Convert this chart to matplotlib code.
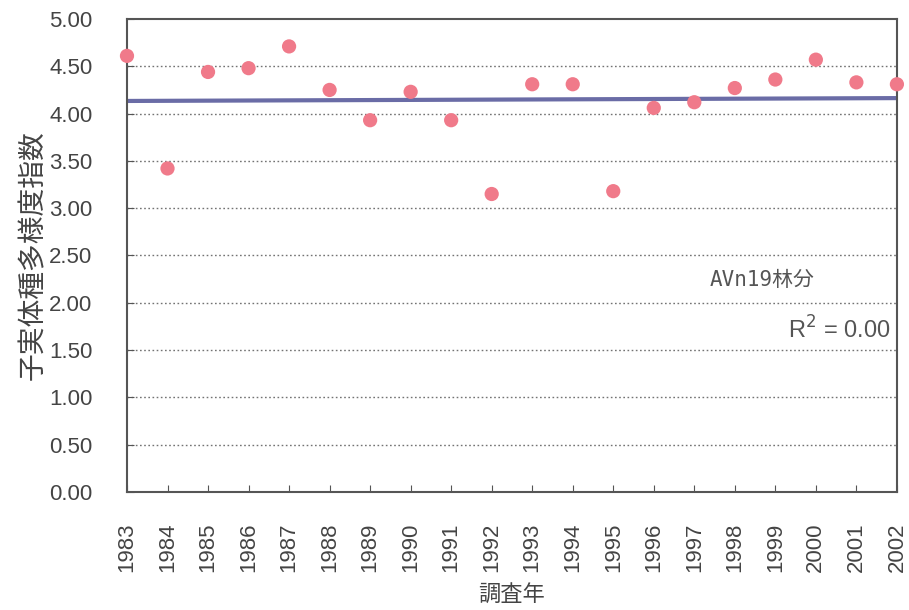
import numpy as np
import matplotlib.pyplot as plt

plt.rcParams['font.family'] = ['Liberation Sans', 'Noto Sans CJK JP']

years = np.arange(1983, 2003)
index = [4.61, 3.42, 4.44, 4.48, 4.71, 4.25, 3.93, 4.23, 3.93, 3.15,
         4.31, 4.31, 3.18, 4.06, 4.12, 4.27, 4.36, 4.57, 4.33, 4.31]
yticks = np.arange(0, 5.01, 0.5)

# linear trend
coef = np.polyfit(years, index, 1)
trend = np.polyval(coef, years)

fig = plt.figure(figsize=(9.09, 6.10), dpi=100)
ax = fig.add_axes([0.1397, 0.1934, 0.847, 0.7755])

for y in yticks[1:-1]:
    ax.axhline(y, color='0.45', linestyle=(0, (1.2, 1.8)), linewidth=1.0, zorder=1)

ax.plot(years, trend, color='#6a6ca6', linewidth=3, zorder=2)
ax.scatter(years, index, s=105, color='#f07a8a', edgecolors='none', zorder=3,
           clip_on=False)

ax.set_xlim(1983, 2002)
ax.set_ylim(0, 5)
ax.set_yticks(yticks)
ax.set_yticklabels(['{:.2f}'.format(v) for v in yticks], fontsize=16, color='#444444')
ax.set_xticks(years)
ax.set_xticklabels([str(y) for y in years], rotation=90, fontsize=16, color='#444444')
ax.tick_params(axis='both', direction='in', length=5, color='#555555')
ax.tick_params(axis='x', pad=22)
ax.tick_params(axis='y', pad=25)
for s in ax.spines.values():
    s.set_color('#555555')
    s.set_linewidth(1.5)

ax.set_xlabel('調査年', fontsize=16, color='#444444',
              family=['Noto Sans CJK JP'], labelpad=8)
ax.set_ylabel('子実体種多様度指数', fontsize=20, color='#444444',
              family=['Noto Sans CJK JP'])
ax.yaxis.set_label_coords(-0.102, 0.5)

ax.text(1998.66, 2.24, 'AVn19林分', fontsize=15, color='#555555',
        family=['DejaVu Sans Mono', 'Noto Sans CJK JP'], ha='center', va='center')
ax.text(2001.85, 1.71, 'R$^{2}$ = 0.00', fontsize=17, color='#555555',
        ha='right', va='center')

plt.savefig('out.png', dpi=100)
